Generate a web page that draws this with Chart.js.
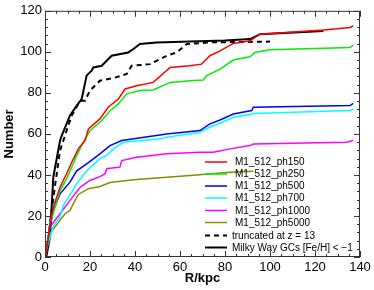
<!DOCTYPE html>
<html>
<head>
<meta charset="utf-8">
<script src="https://cdn.jsdelivr.net/npm/chart.js@4/dist/chart.umd.min.js"></script>
<style>
  body { margin: 0; background: #fff; }
</style>
</head>
<body>
<canvas id="c" width="374" height="290"></canvas>
<script>
// cumulative counts (R in kpc, number)
var r150 = [0, 0.7, 2.2, 3.7, 6.7, 9.6, 11.9, 14.8, 17.8, 19.3, 24.4, 28.1, 32.6, 35.6, 40.7, 48.1, 55.6, 64.4, 69.6, 73.3, 77.8, 83.7, 91.1, 95.6, 123.7, 135.6, 137];
var n150 = [0, 3, 16.2, 24.3, 34, 40.6, 46.2, 52.7, 56.8, 62.4, 67.3, 73, 77, 81.9, 83.5, 85.1, 92.4, 93.2, 94, 98.1, 100.5, 104.1, 105.4, 108.6, 110.6, 111.9, 112.7];

var r250 = [0, 0.7, 2.2, 6.7, 9.6, 14.1, 17, 20, 25.2, 28.9, 32.6, 36.3, 42.2, 48.1, 55.6, 64.4, 70.4, 71.9, 77.8, 83.7, 91.1, 93.3, 100, 135.6, 137];
var n250 = [0, 3, 16, 32.4, 38.1, 49.5, 55.9, 61.6, 66.5, 71.3, 74.6, 79.5, 81.1, 81.4, 85.1, 85.9, 86.3, 88.4, 91.6, 96, 97.6, 99.7, 101, 102.1, 103.3];

var r500 = [0, 0.7, 3.7, 6.7, 11.1, 14.1, 19.3, 24.4, 28.9, 34.1, 54.1, 68.9, 73.3, 77.8, 83.7, 91.9, 92.6, 135.6, 137];
var n500 = [0, 4.9, 22.7, 30.8, 36.5, 42, 46, 50.3, 54.3, 56.8, 60, 61.6, 64.9, 66.8, 69.7, 71.4, 73, 73.8, 74.9];

var r700 = [0, 0.7, 3.7, 6.7, 8.1, 12.6, 14.1, 18.5, 24.4, 27.4, 30.4, 34.8, 50.4, 54.1, 68.9, 74.8, 77.8, 83.7, 91.9, 92.6, 135.6, 137];
var n700 = [0, 4, 15, 19.5, 25, 33, 35.7, 42, 47.9, 49.5, 52.7, 55.9, 57.5, 58.4, 60.8, 64.1, 65.2, 68.1, 69.7, 70, 71.4, 72.2];

var r1000 = [0, 0.7, 2.2, 6.7, 11.1, 15.6, 20, 24.4, 26.7, 27.4, 28.9, 33.3, 34.1, 40.7, 54.1, 68.9, 74.8, 82.2, 91.1, 92.6, 134, 137];
var n1000 = [0, 4.9, 14.6, 21.1, 27.6, 34, 37.3, 39.2, 40.6, 43, 43.3, 43.8, 47, 48.6, 50.3, 51.1, 51.1, 52.7, 54.3, 55.1, 55.9, 56.8];

var r5000 = [0, 0.7, 2.2, 4.4, 8.9, 11.1, 12.6, 14.8, 19.3, 24.4, 28.9, 39.3, 64.4, 82.2, 92.6];
var n5000 = [0, 4.9, 11.4, 14.6, 21.1, 22.7, 26, 30.5, 33.3, 34.4, 36.3, 37.6, 39.7, 41.3, 41.8];

var rTrunc = [0, 1, 2.2, 4.5, 6.7, 9.6, 11.9, 15.6, 17.8, 20, 24.4, 30.4, 36.3, 38.5, 46.7, 54.1, 58.5, 63, 73.3, 100];
var nTrunc = [0, 3, 16.4, 35, 51.9, 61.6, 69, 76.2, 76.2, 81.1, 85.9, 87.2, 89.2, 93.2, 94, 98.1, 99.7, 103.8, 104.6, 105];

var rMW = [0, 0.7, 2.2, 3.7, 6.7, 7.4, 11.1, 14.1, 16.3, 18.5, 20.7, 21.5, 25.2, 29.6, 37, 39.3, 42.2, 49.6, 64.4, 80, 91.1, 95.6, 123.7];
var nMW = [0, 0.8, 9.7, 39, 56.8, 59, 69, 73.8, 77, 88.4, 90.8, 92.4, 93.2, 98.1, 99.7, 101.4, 103.8, 104.6, 105, 105.5, 106.2, 108.6, 110.2];

var seriesNames = ['M1_512_ph150', 'M1_512_ph250', 'M1_512_ph500', 'M1_512_ph700',
                   'M1_512_ph1000', 'M1_512_ph5000', 'truncated at z = 13', 'Milky Way GCs [Fe/H] < \u22121'];

var xTicks = [0, 20, 40, 60, 80, 100, 120, 140];
var yTicks = [0, 20, 40, 60, 80, 100, 120];

function pts(rs, ns) {
  return rs.map(function (r, i) { return { x: r, y: ns[i] }; });
}

var FONT = '"Liberation Sans", Arial, Helvetica, sans-serif';

function line(label, rs, ns, color, width, dash) {
  return {
    label: label,
    data: pts(rs, ns),
    borderColor: color,
    borderWidth: width,
    borderDash: dash || [],
    pointRadius: 0,
    tension: 0,
    fill: false
  };
}

// inward ticks on all four sides + frame
var frame = {
  id: 'frame',
  afterDraw: function (chart) {
    var c = chart.ctx, a = chart.chartArea;
    var xs = chart.scales.x, ys = chart.scales.y;
    c.save();
    c.strokeStyle = '#333';
    c.lineWidth = 1;
    c.strokeRect(a.left + 0.5, a.top + 0.5, a.right - a.left - 1, a.bottom - a.top - 1);
    c.beginPath();
    for (var v = 0; v <= 140; v += 5) {
      var px = Math.round(xs.getPixelForValue(v)) + 0.5;
      var len = v % 20 === 0 ? 6 : 3;
      c.moveTo(px, a.bottom); c.lineTo(px, a.bottom - len);
      c.moveTo(px, a.top); c.lineTo(px, a.top + len);
    }
    for (var w = 0; w <= 120; w += 4) {
      var py = Math.round(ys.getPixelForValue(w)) + 0.5;
      var l2 = w % 20 === 0 ? 6 : 3;
      c.moveTo(a.left, py); c.lineTo(a.left + l2, py);
      c.moveTo(a.right, py); c.lineTo(a.right - l2, py);
    }
    c.stroke();

    // legend
    var ds = chart.data.datasets;
    c.font = '10px ' + FONT;
    c.textBaseline = 'middle';
    c.fillStyle = '#000';
    var rows = [162, 174, 186, 198, 210.5, 222.5, 235.5, 247.5];
    for (var i = 0; i < ds.length; i++) {
      var y = rows[i];
      c.beginPath();
      c.setLineDash(ds[i].borderDash);
      c.strokeStyle = ds[i].borderColor;
      c.lineWidth = ds[i].borderWidth;
      c.moveTo(205, y); c.lineTo(227, y);
      c.stroke();
      c.setLineDash([]);
      c.fillText(ds[i].label, i < 6 ? 235 : 232, y + 0.5);
    }
    c.restore();
  }
};

new Chart(document.getElementById('c'), {
  type: 'line',
  data: {
    datasets: [
      line(seriesNames[0], r150, n150, '#ff0000', 1.5),
      line(seriesNames[1], r250, n250, '#00ee00', 1.5),
      line(seriesNames[2], r500, n500, '#0000ff', 1.5),
      line(seriesNames[3], r700, n700, '#00ffff', 1.5),
      line(seriesNames[4], r1000, n1000, '#ff00ff', 1.5),
      line(seriesNames[5], r5000, n5000, '#8b8b00', 1.5),
      line(seriesNames[6], rTrunc, nTrunc, '#000000', 2, [5, 4]),
      line(seriesNames[7], rMW, nMW, '#000000', 2)
    ]
  },
  options: {
    responsive: false,
    animation: false,
    layout: { padding: { left: 0, right: 14, top: 10, bottom: 0 } },
    plugins: { legend: { display: false }, tooltip: { enabled: false } },
    scales: {
      x: {
        type: 'linear', min: 0, max: 140,
        afterBuildTicks: function (s) { s.ticks = xTicks.map(function (v) { return { value: v }; }); },
        afterFit: function (s) { s.height = 33; },
        grid: { display: false, drawTicks: false },
        border: { display: false },
        ticks: { color: '#000', padding: 3, font: { family: FONT, size: 13 }, maxRotation: 0 },
        title: { display: true, text: 'R/kpc', color: '#000', padding: { top: 0, bottom: 4 },
                 font: { family: FONT, size: 13, weight: 'bold' } }
      },
      y: {
        type: 'linear', min: 0, max: 120,
        afterBuildTicks: function (s) { s.ticks = yTicks.map(function (v) { return { value: v }; }); },
        afterFit: function (s) { s.width = 45; },
        grid: { display: false, drawTicks: false },
        border: { display: false },
        ticks: { color: '#000', padding: 3, font: { family: FONT, size: 13 } },
        title: { display: true, text: 'Number', color: '#000', padding: { top: 2, bottom: 0 },
                 font: { family: FONT, size: 13, weight: 'bold' } }
      }
    }
  },
  plugins: [frame]
});
</script>
</body>
</html>
